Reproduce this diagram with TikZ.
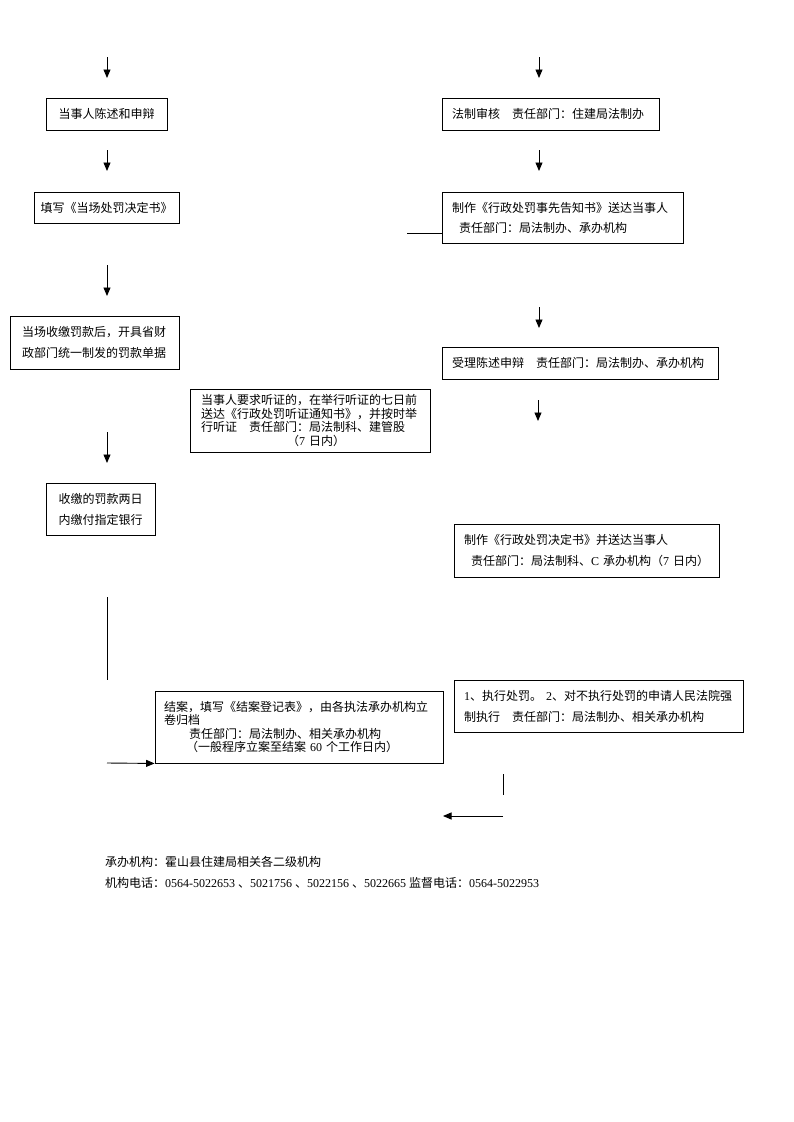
\documentclass[tikz,border=0pt]{standalone}
\usepackage{fontspec}
\setmainfont{Liberation Serif}
\newfontfamily\cjk{Noto Sans CJK SC}
\newcommand\latn[1]{{\rmfamily #1}}
\usetikzlibrary{arrows.meta}
\begin{document}
\begin{tikzpicture}[x=1pt,y=-1pt,
  box/.style={draw, line width=0.9pt, inner ysep=0pt, font=\cjk\fontsize{12}{20}\selectfont},
  tight/.style={font=\cjk\fontsize{12}{13.4}\selectfont},
  arr/.style={line width=0.9pt, -{Triangle[length=8.5pt,width=7pt]}},
  ln/.style={line width=0.9pt},
  foot/.style={anchor=west, inner sep=0pt, font=\cjk\fontsize{12}{14}\selectfont}]
\useasboundingbox[fill=white] (0,0) rectangle (793,1122);

% left column boxes
\node[box, minimum width=121pt, minimum height=32pt, align=center] (l1) at (106.5,114) {当事人陈述和申辩};
\node[box, minimum width=145pt, minimum height=31pt, align=center] (l2) at (106.5,207.5) {填写《当场处罚决定书》};
\node[box, text width=145pt, inner xsep=12pt, minimum height=53pt, align=left, font=\cjk\fontsize{12}{21}\selectfont] (l3) at (94.5,342.5) {当场收缴罚款后，开具省财\\政部门统一制发的罚款单据};
\node[box, minimum width=109pt, minimum height=52pt, align=center, font=\cjk\fontsize{12}{21}\selectfont] (l4) at (100.5,509) {收缴的罚款两日\\内缴付指定银行};

% hearing box
\node[box, tight, text width=218pt, inner xsep=11pt, minimum height=63pt, align=left] (h) at (310,420.5) {当事人要求听证的，在举行听证的七日前\\送达《行政处罚听证通知书》，并按时举\\行听证\hspace{1em}责任部门：局法制科、建管股\\\hspace*{86pt}（\latn{7}~日内）};

% closing box
\node[box, tight, text width=270pt, inner xsep=9pt, minimum height=72pt, align=left] (b5) at (299,727) {结案，填写《结案登记表》，由各执法承办机构立\\卷归档\\\hspace*{25pt}责任部门：局法制办、相关承办机构\\\hspace*{22pt}（一般程序立案至结案~\latn{60}~个工作日内）};

% right column boxes
\node[box, text width=197pt, inner xsep=10pt, minimum height=32pt, align=left] (r1) at (550.5,114) {法制审核\hspace{1em}责任部门：住建局法制办};
\node[box, text width=221pt, inner xsep=10pt, minimum height=51pt, align=left] (r2) at (562.5,217.5) {制作《行政处罚事先告知书》送达当事人\\\hspace*{7pt}责任部门：局法制办、承办机构};
\node[box, text width=256pt, inner xsep=10pt, minimum height=32pt, align=left] (r3) at (580,363) {受理陈述申辩\hspace{1em}责任部门：局法制办、承办机构};
\node[box, text width=245pt, inner xsep=10pt, minimum height=53pt, align=left, font=\cjk\fontsize{12}{21}\selectfont] (r4) at (586.5,550.5) {制作《行政处罚决定书》并送达当事人\\\hspace*{7pt}责任部门：局法制科、\latn{C}~承办机构（\latn{7}~日内）};
\node[box, text width=269pt, inner xsep=10pt, minimum height=52pt, align=left, font=\cjk\fontsize{12}{21}\selectfont] (r5) at (598.5,706) {\latn{1}、执行处罚。~\latn{2}、对不执行处罚的申请人民法院强\\制执行\hspace{1em}责任部门：局法制办、相关承办机构};

% connector coordinates
\coordinate (a1s) at (107,57);  \coordinate (a1e) at (107,78);
\coordinate (a2s) at (107,150); \coordinate (a2e) at (107,171);
\coordinate (a3s) at (107,265); \coordinate (a3e) at (107,296);
\coordinate (a4s) at (107,432); \coordinate (a4e) at (107,463);
\coordinate (b1s) at (539,57);  \coordinate (b1e) at (539,78);
\coordinate (b2s) at (539,150); \coordinate (b2e) at (539,171);
\coordinate (b3s) at (539,307); \coordinate (b3e) at (539,328);
\coordinate (b4s) at (538,400); \coordinate (b4e) at (538,421);
\coordinate (c1) at (407,233);
\coordinate (v1s) at (107,597); \coordinate (v1e) at (107,680);
\coordinate (h1s) at (107,763);
\coordinate (v2s) at (503,774); \coordinate (v2e) at (503,795);
\coordinate (h2s) at (503,816); \coordinate (h2e) at (443,816);

\draw[arr] (a1s) -- (a1e);
\draw[arr] (a2s) -- (a2e);
\draw[arr] (a3s) -- (a3e);
\draw[arr] (a4s) -- (a4e);
\draw[arr] (b1s) -- (b1e);
\draw[arr] (b2s) -- (b2e);
\draw[arr] (b3s) -- (b3e);
\draw[arr] (b4s) -- (b4e);
\draw[ln] (c1) -- (c1 -| r2.west);
\draw[ln] (v1s) -- (v1e);
\draw[arr] (h1s) -- (b5.south west);
\draw[ln] (v2s) -- (v2e);
\draw[arr] (h2s) -- (h2e);

% footer
\node[foot] (f1) at (105,862) {承办机构：霍山县住建局相关各二级机构};
\node[foot] (f2) at (105,883) {机构电话：\latn{0564-5022653 }、\latn{5021756 }、\latn{5022156 }、\latn{5022665 }监督电话：\latn{0564-5022953}};
\end{tikzpicture}
\end{document}
